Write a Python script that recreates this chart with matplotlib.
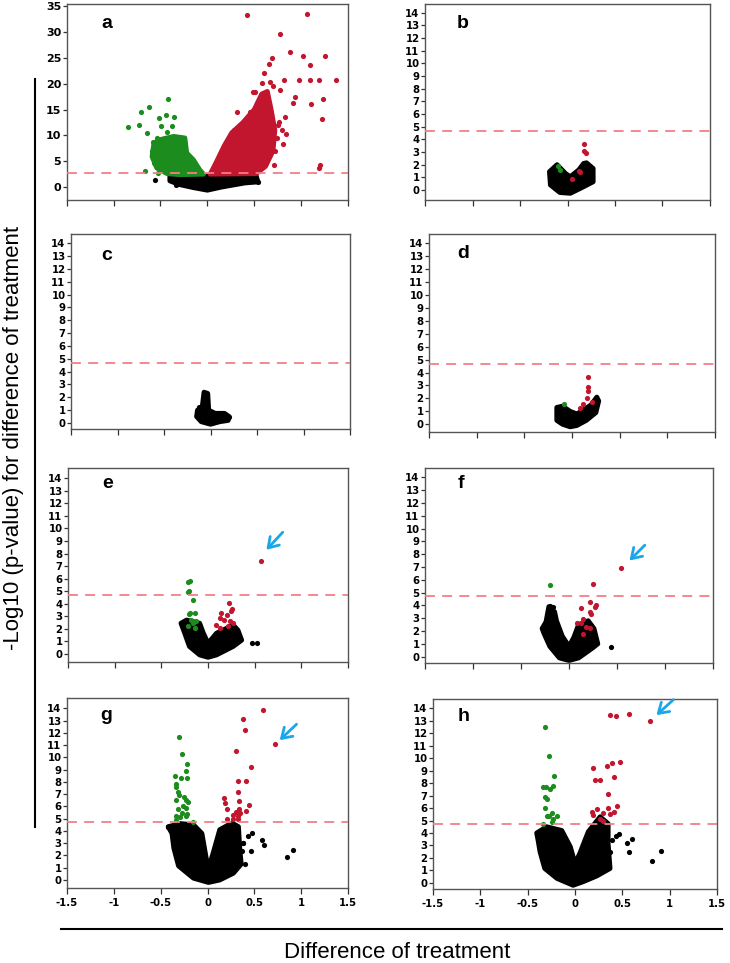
import matplotlib
matplotlib.use("Agg")
import matplotlib.pyplot as plt
import numpy as np

# ---- data (x = difference, y = -log10 p) ----
x_ticks = [-1.5, -1, -0.5, 0, 0.5, 1, 1.5]
x_tick_labels = ["-1.5", "-1", "-0.5", "0", "0.5", "1", "1.5"]
a_yticks = [0, 5, 10, 15, 20, 25, 30, 35]
small_yticks = list(range(0, 15))
a_cut = 2.77
cut = 4.7

# panel a
a_green_x = [-0.85, -0.73, -0.71, -0.62, -0.42, -0.64, -0.52, -0.44, -0.36, -0.49, -0.38,
             -0.43, -0.66, -0.53, -0.575, -0.54, -0.45, -0.33, -0.26, -0.59, -0.57]
a_green_y = [11.6, 12.0, 14.5, 15.4, 17.05, 10.4, 13.3, 14.0, 13.5, 11.8, 11.8,
             10.6, 3.2, 2.8, 8.8, 9.5, 9.5, 9.3, 9.3, 6.9, 4.6]
a_green_mass_x = [-0.57, -0.50, -0.36, -0.24, -0.22, -0.15, -0.08, -0.04, -0.30, -0.43, -0.54, -0.59]
a_green_mass_y = [8.5, 9.2, 9.8, 9.5, 6.6, 5.3, 3.3, 2.5, 2.4, 2.6, 3.7, 5.9]
a_red_x = [0.42, 1.06, 0.77, 0.88, 1.02, 1.25, 1.10, 0.66, 0.69, 0.82, 0.98, 1.09, 1.19,
           1.37, 1.23, 1.11, 0.94, 0.91, 1.22, 1.20, 1.19, 0.83, 0.84, 0.81, 0.78, 0.49,
           0.51, 0.32, 0.45, 0.71, 0.63, 0.58, 0.67, 0.70, 0.75, 0.80, 0.72, 0.60,
           0.55, 0.60, 0.66, 0.74, 0.76, 0.35, 0.28]
a_red_y = [33.2, 33.5, 29.7, 26.1, 25.4, 25.4, 23.6, 23.9, 25.0, 20.8, 20.7, 20.7, 20.7,
           20.8, 17.05, 16.0, 17.5, 16.3, 13.1, 4.2, 3.7, 13.6, 10.2, 8.3, 18.7, 18.3,
           18.3, 14.6, 14.6, 4.2, 4.6, 20.2, 20.4, 19.6, 12.0, 11.0, 7.0, 22.0,
           16.5, 14.5, 13.0, 9.5, 12.5, 11.5, 11.0]
a_red_mass_x = [0.03, 0.10, 0.18, 0.26, 0.38, 0.50, 0.58, 0.64, 0.68, 0.72, 0.70, 0.62, 0.52]
a_red_mass_y = [2.5, 5.0, 8.0, 10.5, 12.5, 15.0, 18.0, 18.5, 15.0, 11.0, 7.0, 4.0, 2.6]
a_black_x = [-0.56, -0.33, 0.54, 0.50]
a_black_y = [1.35, 0.4, 1.0, 1.6]
a_black_mass_x = [-0.40, -0.20, -0.05, 0.05, 0.25, 0.52, 0.54, 0.40, 0.15, 0.0, -0.15, -0.30, -0.40]
a_black_mass_y = [2.2, 2.3, 2.0, 2.3, 2.3, 2.2, 1.0, 0.8, 0.0, -0.6, -0.1, 0.5, 1.2]

# panel b
b_black_mass_x = [-0.19, -0.11, -0.02, 0.03, 0.12, 0.17, 0.20, 0.27, 0.27, 0.17, 0.03, -0.08, -0.18]
b_black_mass_y = [1.45, 2.0, 1.3, 1.05, 1.6, 2.1, 2.15, 1.7, 0.65, 0.26, -0.26, -0.2, 0.4]
b_red_x = [0.17, 0.175, 0.19, 0.12, 0.13, 0.05]
b_red_y = [3.6, 3.1, 2.9, 1.5, 1.45, 0.87]
b_green_x = [-0.095, -0.08]
b_green_y = [1.9, 1.6]

# panel c
c_black_mass_x = [-0.07, -0.03, -0.02, 0.05, 0.15, 0.20, 0.19, 0.10, 0.0, -0.10, -0.15, -0.14, -0.09]
c_black_mass_y = [2.4, 2.3, 1.0, 0.75, 0.75, 0.5, 0.2, 0.1, -0.1, 0.1, 0.5, 1.0, 1.2]
c_black_x = [-0.05, -0.12, -0.04, 0.2]
c_black_y = [2.35, 1.25, 1.8, 0.5]

# panel d
d_black_mass_x = [-0.16, -0.10, -0.02, 0.05, 0.12, 0.20, 0.26, 0.28, 0.25, 0.15, 0.05, -0.02, -0.10, -0.16]
d_black_mass_y = [1.3, 1.4, 1.0, 0.8, 1.1, 1.5, 2.1, 1.8, 0.9, 0.3, -0.1, -0.2, 0.0, 0.3]
d_red_x = [0.17, 0.17, 0.17, 0.155, 0.12, 0.085, 0.21]
d_red_y = [3.63, 2.9, 2.6, 2.0, 1.6, 1.25, 1.75]
d_green_x = [-0.08]
d_green_y = [1.57]

# panel e
e_black_mass_x = [-0.29, -0.23, -0.09, -0.05, 0.0, 0.09, 0.27, 0.32, 0.36, 0.27, 0.09, 0.0, -0.09, -0.20, -0.25]
e_black_mass_y = [2.45, 2.7, 2.45, 1.65, 0.85, 1.65, 2.3, 1.9, 1.1, 0.6, -0.08, -0.27, -0.08, 0.6, 1.65]
e_black_x = [0.47, 0.52, 0.23, 0.32]
e_black_y = [0.9, 0.9, 1.1, 1.4]
e_green_x = [-0.19, -0.21, -0.20, -0.21, -0.16, -0.19, -0.14, -0.20, -0.18, -0.16, -0.21, -0.125, -0.14]
e_green_y = [5.8, 5.7, 5.05, 4.9, 4.3, 3.3, 3.3, 3.2, 2.7, 2.45, 2.2, 2.6, 2.1]
e_red_x = [0.57, 0.22, 0.26, 0.25, 0.14, 0.20, 0.125, 0.17, 0.23, 0.09, 0.125, 0.21, 0.27]
e_red_y = [7.4, 4.1, 3.55, 3.4, 3.3, 3.1, 2.9, 2.7, 2.6, 2.3, 2.05, 2.2, 2.45]
e_arrow = [(0.80, 9.7), (0.625, 8.3)]

# panel f
f_black_mass_x = [-0.21, -0.15, -0.13, -0.07, 0.0, 0.05, 0.10, 0.20, 0.26, 0.30, 0.25, 0.10, 0.0,
                  -0.10, -0.20, -0.26, -0.28, -0.24]
f_black_mass_y = [3.9, 3.5, 2.8, 1.6, 0.8, 1.5, 2.5, 2.8, 2.2, 1.0, 0.7, -0.1, -0.3,
                  -0.1, 0.8, 1.8, 2.2, 2.7]
f_black_x = [-0.20, -0.17, -0.165, -0.245, -0.275, 0.44]
f_black_y = [3.95, 3.9, 3.3, 2.6, 2.1, 0.78]
f_green_x = [-0.20]
f_green_y = [5.6]
f_red_x = [0.54, 0.255, 0.22, 0.28, 0.27, 0.13, 0.22, 0.23, 0.15, 0.085, 0.12, 0.18, 0.22, 0.15]
f_red_y = [6.9, 5.7, 4.3, 4.0, 3.85, 3.8, 3.45, 3.3, 2.95, 2.65, 2.6, 2.35, 2.2, 1.8]
f_arrow = [(0.79, 8.7), (0.63, 7.5)]

# panel g
g_black_mass_x = [-0.42, -0.29, -0.15, -0.06, -0.01, 0.01, 0.06, 0.13, 0.26, 0.33, 0.345, 0.36,
                  0.275, 0.13, 0.01, -0.15, -0.31, -0.36, -0.38]
g_black_mass_y = [4.35, 4.6, 4.5, 3.8, 1.6, 0.95, 2.2, 4.1, 4.65, 4.35, 2.45, 1.3,
                  0.55, 0.0, -0.2, 0.15, 1.15, 2.6, 3.8]
g_black_x = [-0.42, 0.47, 0.435, 0.375, 0.365, 0.58, 0.605, 0.46, 0.91, 0.85, 0.40, 0.38]
g_black_y = [4.35, 3.85, 3.55, 3.05, 2.4, 3.3, 2.85, 2.35, 2.45, 1.85, 1.3, 3.0]
g_red_x = [0.72, 0.59, 0.375, 0.40, 0.30, 0.46, 0.325, 0.41, 0.32, 0.175, 0.19, 0.34, 0.445,
           0.205, 0.41, 0.34, 0.30, 0.275, 0.33, 0.345, 0.21, 0.275, 0.32]
g_red_y = [11.06, 13.9, 13.1, 12.2, 10.5, 9.2, 8.1, 8.1, 7.2, 6.7, 6.25, 6.45, 6.1,
           5.75, 5.65, 5.8, 5.55, 5.3, 5.25, 5.45, 5.0, 4.95, 4.95]
g_green_x = [-0.30, -0.275, -0.22, -0.235, -0.35, -0.285, -0.22, -0.34, -0.34, -0.32, -0.30,
             -0.335, -0.25, -0.23, -0.21, -0.26, -0.32, -0.23, -0.275, -0.22, -0.34, -0.295,
             -0.235, -0.335, -0.16]
g_green_y = [11.65, 10.25, 9.45, 8.9, 8.5, 8.3, 8.3, 7.8, 7.6, 7.15, 6.9,
             6.55, 6.75, 6.5, 6.4, 6.05, 5.8, 5.85, 5.45, 5.4, 5.2, 5.15,
             5.2, 4.9, 4.7]
g_arrow = [(0.95, 12.7), (0.77, 11.4)]

# panel h
h_black_mass_x = [-0.405, -0.30, -0.14, -0.05, 0.0, 0.05, 0.14, 0.265, 0.35, 0.35, 0.37, 0.23,
                  0.09, -0.02, -0.19, -0.32, -0.37, -0.39]
h_black_mass_y = [4.0, 4.5, 4.2, 2.9, 1.55, 2.35, 4.1, 5.3, 4.75, 3.15, 1.15, 0.55,
                  0.1, -0.2, 0.35, 1.15, 2.5, 3.4]
h_black_x = [-0.405, 0.46, 0.435, 0.39, 0.55, 0.60, 0.57, 0.81, 0.91, 0.37]
h_black_y = [4.0, 3.95, 3.75, 3.4, 3.2, 3.5, 2.5, 1.75, 2.55, 2.5]
h_red_x = [0.79, 0.565, 0.37, 0.43, 0.195, 0.34, 0.39, 0.47, 0.21, 0.26, 0.415, 0.35, 0.23,
           0.345, 0.44, 0.175, 0.185, 0.30, 0.365, 0.415, 0.265, 0.30]
h_red_y = [13.0, 13.55, 13.5, 13.4, 9.25, 9.35, 9.65, 9.7, 8.25, 8.25, 8.5, 7.1, 5.9,
           6.0, 6.2, 5.7, 5.45, 5.6, 5.55, 5.7, 5.15, 5.0]
h_green_x = [-0.32, -0.28, -0.22, -0.34, -0.31, -0.23, -0.265, -0.32, -0.30, -0.32, -0.245,
             -0.30, -0.27, -0.195, -0.23, -0.335, -0.245]
h_green_y = [12.5, 10.15, 8.55, 7.7, 7.7, 7.8, 7.5, 6.9, 6.7, 6.0, 5.6,
             5.35, 5.35, 5.4, 5.15, 4.75, 4.85]
h_arrow = [(1.04, 14.7), (0.86, 13.46)]

RED = "#c2152e"
GREEN = "#1c8c1e"
BLACK = "#000000"
CUT_COLOR = "#f08088"
ARROW = "#1ba6e8"
DOT = 14

plt.rcParams["font.family"] = ["Liberation Sans", "DejaVu Sans"]

fig = plt.figure(figsize=(7.30, 9.63), dpi=100)


def draw_panel(rect, letter, ylim, yticks, cutoff, letter_pos,
               black_mass=None, black=None, green_mass=None, green=None,
               red_mass=None, red=None, arrow=None, xlabels=False, tick_size=7.3):
    ax = fig.add_axes(rect)
    # dense part of the cloud
    for mass, col in ((black_mass, BLACK), (green_mass, GREEN), (red_mass, RED)):
        if mass is not None:
            ax.fill(mass[0], mass[1], color=col, lw=3.5, joinstyle="round", zorder=2)
    for pts, col in ((black, BLACK), (green, GREEN), (red, RED)):
        if pts is not None:
            ax.scatter(pts[0], pts[1], s=DOT, color=col, linewidths=0, zorder=3)
    ax.axhline(cutoff, color=CUT_COLOR, lw=1.3, dashes=(5.5, 4), zorder=4)
    if arrow is not None:
        ax.annotate("", xy=arrow[1], xytext=arrow[0],
                    arrowprops=dict(arrowstyle="->,head_length=0.7,head_width=0.45",
                                    color=ARROW, lw=2.0, shrinkA=0, shrinkB=0), zorder=5)
    ax.set_xlim(-1.5, 1.5)
    ax.set_ylim(*ylim)
    ax.set_xticks(x_ticks)
    ax.set_yticks(yticks)
    if xlabels:
        ax.set_xticklabels(x_tick_labels)
    else:
        ax.set_xticklabels([])
    for lab in ax.get_xticklabels() + ax.get_yticklabels():
        lab.set_family("DejaVu Sans")
        lab.set_fontweight("bold")
        lab.set_fontsize(tick_size)
    ax.tick_params(axis="y", direction="out", length=3, width=0.9, pad=1, color="#333333")
    ax.tick_params(axis="x", direction="out", length=4, width=0.9, pad=3, color="#333333")
    for sp in ax.spines.values():
        sp.set_color("#555555")
        sp.set_linewidth(1.0)
    ax.text(letter_pos[0], letter_pos[1], letter, transform=ax.transAxes,
            fontsize=14, fontweight="bold", ha="center", va="center")
    return ax


draw_panel([0.0914, 0.7923, 0.3853, 0.2035], "a", (-2.5, 35.4), a_yticks, a_cut, (0.143, 0.90),
           black_mass=(a_black_mass_x, a_black_mass_y), black=(a_black_x, a_black_y),
           green_mass=(a_green_mass_x, a_green_mass_y), green=(a_green_x, a_green_y),
           red_mass=(a_red_mass_x, a_red_mass_y), red=(a_red_x, a_red_y), tick_size=8)
draw_panel([0.5822, 0.7923, 0.3904, 0.2035], "b", (-0.79, 14.69), small_yticks, cut, (0.133, 0.90),
           black_mass=(b_black_mass_x, b_black_mass_y),
           green=(b_green_x, b_green_y), red=(b_red_x, b_red_y))
draw_panel([0.0973, 0.5545, 0.3822, 0.2025], "c", (-0.47, 14.72), small_yticks, cut, (0.129, 0.89),
           black_mass=(c_black_mass_x, c_black_mass_y), black=(c_black_x, c_black_y))
draw_panel([0.5877, 0.5514, 0.3918, 0.2056], "d", (-0.6, 14.72), small_yticks, cut, (0.119, 0.90),
           black_mass=(d_black_mass_x, d_black_mass_y),
           green=(d_green_x, d_green_y), red=(d_red_x, d_red_y))
draw_panel([0.0932, 0.3126, 0.3836, 0.2014], "e", (-0.64, 14.82), small_yticks, cut, (0.14, 0.92),
           black_mass=(e_black_mass_x, e_black_mass_y), black=(e_black_x, e_black_y),
           green=(e_green_x, e_green_y), red=(e_red_x, e_red_y), arrow=e_arrow)
draw_panel([0.5822, 0.3116, 0.3945, 0.2024], "f", (-0.49, 14.72), small_yticks, cut, (0.125, 0.92),
           black_mass=(f_black_mass_x, f_black_mass_y), black=(f_black_x, f_black_y),
           green=(f_green_x, f_green_y), red=(f_red_x, f_red_y), arrow=f_arrow)
draw_panel([0.0918, 0.0779, 0.3850, 0.1973], "g", (-0.65, 14.84), small_yticks, cut, (0.14, 0.91),
           black_mass=(g_black_mass_x, g_black_mass_y), black=(g_black_x, g_black_y),
           green=(g_green_x, g_green_y), red=(g_red_x, g_red_y), arrow=g_arrow, xlabels=True)
draw_panel([0.5932, 0.0768, 0.3890, 0.1973], "h", (-0.5, 14.75), small_yticks, cut, (0.109, 0.91),
           black_mass=(h_black_mass_x, h_black_mass_y), black=(h_black_x, h_black_y),
           green=(h_green_x, h_green_y), red=(h_red_x, h_red_y), arrow=h_arrow, xlabels=True)

# shared axis titles with their bracket lines
fig.add_artist(plt.Line2D([0.048, 0.048], [0.141, 0.918], color="black", lw=1.5,
                          transform=fig.transFigure))
fig.add_artist(plt.Line2D([0.0836, 0.989], [0.0353, 0.0353], color="black", lw=1.5,
                          transform=fig.transFigure))
fig.text(0.019, 0.545, "-Log10 (p-value) for difference of treatment", rotation=90,
         fontsize=16, ha="center", va="center")
fig.text(0.544, 0.0114, "Difference of treatment", fontsize=16, ha="center", va="center")

fig.savefig("out.png", dpi=100)
